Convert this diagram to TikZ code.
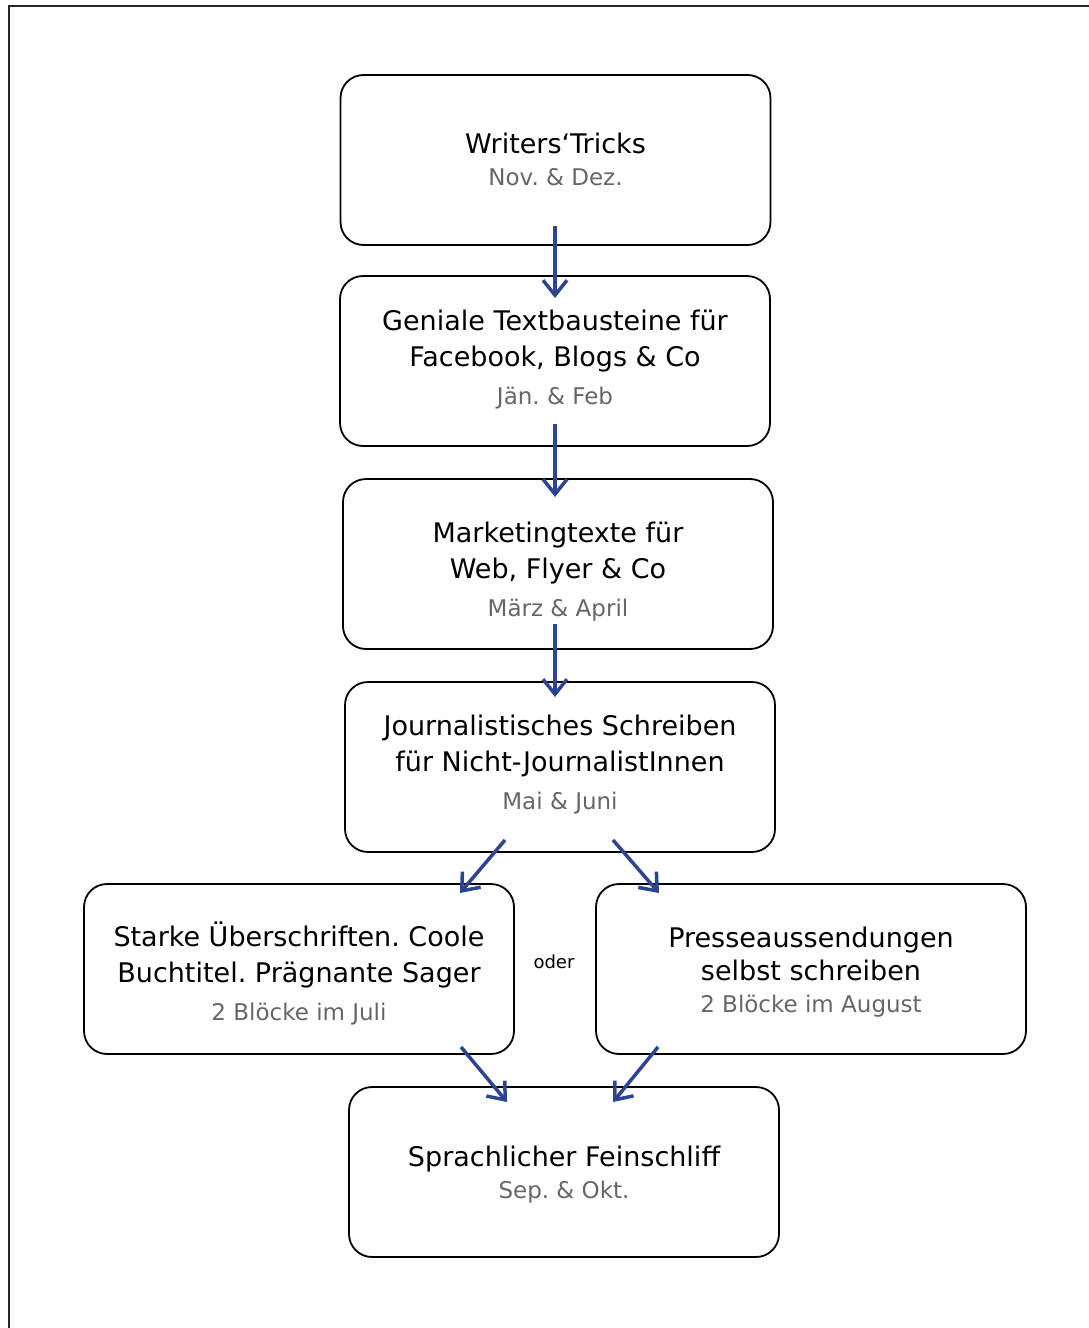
\documentclass[tikz,border=0pt]{standalone}
\usepackage{fontspec}
\setmainfont{DejaVu Sans}
\usetikzlibrary{arrows.meta,calc}
\definecolor{arrowblue}{HTML}{2D4394}
\definecolor{subgray}{HTML}{666666}
\tikzset{
  x=1pt, y=-1pt,
  stepbox/.style={draw=black, line width=1.8pt, rounded corners=23pt,
    minimum width=430pt, minimum height=170pt, inner sep=0pt},
  boxtext/.style={align=center, inner sep=0pt, font=\fontsize{27}{36}\selectfont},
  flow/.style={draw=arrowblue, line width=3.5pt,
    -{Straight Barb[length=15pt, width=24pt, line width=3.5pt]}}
}
\newcommand{\subt}[1]{\\[2pt]{\fontsize{23}{30}\selectfont\color{subgray}#1}}
\newcommand{\subtc}[1]{\\[-4pt]{\fontsize{23}{30}\selectfont\color{subgray}#1}}
\frenchspacing
\begin{document}
\begin{tikzpicture}
\useasboundingbox (0,0) rectangle (1089,1328);
\draw[line width=2pt, black!85] (9,1330) -- (9,6) -- (1092,6);

\node[stepbox] (b1) at (555.5,160) {};
\node[stepbox] (b2) at (555,361) {};
\node[stepbox] (b3) at (558,564) {};
\node[stepbox] (b4) at (560,767) {};
\node[stepbox] (b5) at (299,969) {};
\node[stepbox] (b6) at (811,969) {};
\node[stepbox] (b7) at (564,1172) {};

\node[boxtext] (t1) at ($(b1)+(0,-1)$) {Writers‘Tricks\subtc{Nov. \& Dez.}};
\node[boxtext] (t2) at ($(b2)+(0,-1)$) {Geniale Textbausteine für\\Facebook, Blogs \& Co\subt{Jän. \& Feb}};
\node[boxtext] (t3) at ($(b3)+(0,8)$) {Marketingtexte für\\Web, Flyer \& Co\subt{März \& April}};
\node[boxtext] (t4) at ($(b4)+(0,-2)$) {Journalistisches Schreiben\\für Nicht-JournalistInnen\subt{Mai \& Juni}};
\node[boxtext] (t5) at ($(b5)+(0,4)$) {Starke Überschriften. Coole\\Buchtitel. Prägnante Sager\subt{2 Blöcke im Juli}};
\node[boxtext] (t6) at ($(b6)+(0,3)$) {Presseaussendungen\\[-3pt]selbst schreiben\subtc{2 Blöcke im August}};
\node[boxtext] (t7) at ($(b7)+(0,3)$) {Sprachlicher Feinschliff\subtc{Sep. \& Okt.}};
\node[font=\fontsize{18}{22}\selectfont] (oder) at (554,962) {oder};

\coordinate (a1s) at (555,226); \coordinate (a1e) at (555,298);
\coordinate (a2s) at (555,424); \coordinate (a2e) at (555,497);
\coordinate (a3s) at (555,624); \coordinate (a3e) at (555,697);
\coordinate (a4s) at (505,840); \coordinate (a4e) at (460,893);
\coordinate (a5s) at (613,840); \coordinate (a5e) at (659,893);
\coordinate (a6s) at (461,1047); \coordinate (a6e) at (507,1102);
\coordinate (a7s) at (658,1047); \coordinate (a7e) at (613,1102);

\draw[flow] (a1s) -- (a1e);
\draw[flow] (a2s) -- (a2e);
\draw[flow] (a3s) -- (a3e);
\draw[flow] (a4s) -- (a4e);
\draw[flow] (a5s) -- (a5e);
\draw[flow] (a6s) -- (a6e);
\draw[flow] (a7s) -- (a7e);
\end{tikzpicture}
\end{document}
